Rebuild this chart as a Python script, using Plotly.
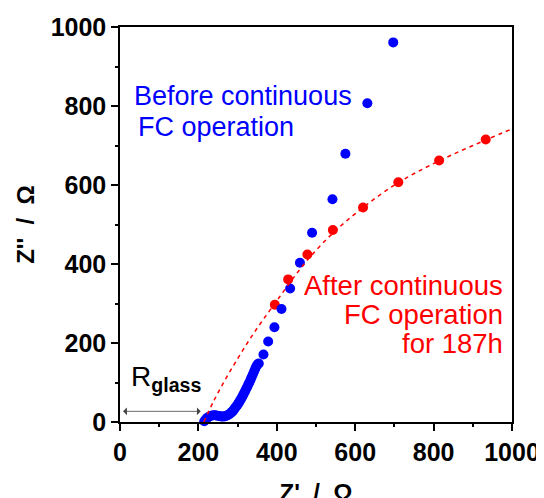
import plotly.graph_objects as go

# Before continuous FC operation (blue)
before_x = [215, 219, 223, 228, 233, 238, 243, 248, 253, 258, 262, 266, 270, 274, 278,
            282, 285, 288, 291, 294, 297, 300, 303, 306, 309, 312, 315, 318, 321, 324,
            327, 330, 333, 336, 339, 342, 345, 348, 351,
            354, 366, 378, 394, 412, 434, 459, 490, 542, 575, 631, 697]
before_y = [2, 7, 11, 14, 16, 17, 17, 16, 15, 14, 14, 14, 15, 17, 19,
            22, 25, 28, 32, 36, 40, 44, 49, 54, 59, 64, 70, 76, 82, 88,
            94, 100, 107, 114, 121, 128, 135, 141, 146,
            148, 171, 204, 240, 286, 338, 403, 479, 564, 679, 807, 961]

# After continuous FC operation for 187h (red)
after_x = [395, 429, 478, 543, 620, 710, 814, 933]
after_y = [297, 361, 424, 486, 543, 607, 662, 715]

# Fitted dashed curve
fit_x = [214, 240, 270, 300, 330, 360, 395, 430, 478, 543, 620, 710, 814, 933, 1000]
fit_y = [0, 55, 110, 160, 208, 252, 300, 348, 410, 478, 543, 606, 661, 714, 742]

x_ticks = [0, 200, 400, 600, 800, 1000]
y_ticks = [0, 200, 400, 600, 800, 1000]

FONT = "Liberation Sans, Arial, sans-serif"
BLUE = "#0000FF"
RED = "#FF0000"

fig = go.Figure()
fig.add_trace(go.Scatter(x=after_x, y=after_y, mode="markers",
                         marker=dict(color=RED, size=10), showlegend=False, cliponaxis=False))
fig.add_trace(go.Scatter(x=before_x, y=before_y, mode="markers",
                         marker=dict(color=BLUE, size=10), showlegend=False, cliponaxis=False))
fig.add_trace(go.Scatter(x=fit_x, y=fit_y, mode="lines",
                         line=dict(color=RED, width=1.5, dash="4px,4px", shape="spline"),
                         showlegend=False))

axis_common = dict(
    range=[0, 1000], tickmode="array", ticks="outside", ticklen=7, tickwidth=1.5,
    tickcolor="black", showline=True, linewidth=1.5, linecolor="black", mirror=True,
    showgrid=False, zeroline=False, automargin=False,
    minor=dict(dtick=100, tick0=0, ticks="outside", ticklen=3.5, tickwidth=1.5, tickcolor="black"),
    tickfont=dict(family=FONT, size=25, color="black", weight="bold"),
)
fig.update_xaxes(**axis_common, tickvals=x_ticks, ticktext=[str(v) for v in x_ticks],
                 title=dict(text="Z'  /  Ω", standoff=24,
                            font=dict(family=FONT, size=24, color="black", weight="bold")))
fig.update_yaxes(**axis_common, tickvals=y_ticks, ticktext=[str(v) for v in y_ticks],
                 title=dict(text="Z''  /  Ω", standoff=9,
                            font=dict(family=FONT, size=24, color="black", weight="bold")))

ann_font_b = dict(family=FONT, size=27, color=BLUE)
ann_font_r = dict(family=FONT, size=27.5, color=RED)
annotations = [
    dict(x=30, y=826, text="Before continuous", xanchor="left", yanchor="middle", font=ann_font_b),
    dict(x=41, y=747, text="FC operation", xanchor="left", yanchor="middle", font=ann_font_b),
    dict(x=982, y=345, text="After continuous", xanchor="right", yanchor="middle", font=ann_font_r),
    dict(x=982, y=272, text="FC operation", xanchor="right", yanchor="middle", font=ann_font_r),
    dict(x=982, y=198, text="for 187h", xanchor="right", yanchor="middle", font=ann_font_r),
    dict(x=22, y=110, text="R<sub><b>glass</b></sub>", xanchor="left", yanchor="middle",
         font=dict(family=FONT, size=28, color="black")),
    dict(x=206, y=27, ax=4, ay=27, axref="x", ayref="y", text="", showarrow=True,
         arrowside="end+start", arrowhead=1, arrowsize=1.6, arrowwidth=0.8, arrowcolor="#444"),
]
for a in annotations:
    a.setdefault("showarrow", False)
    a["xref"] = "x"
    a["yref"] = "y"

# the page body adds an 8px offset, so margins are reduced on the left/top accordingly
fig.update_layout(
    width=544, height=498,
    margin=dict(l=112, r=40, t=19, b=84),
    paper_bgcolor="white", plot_bgcolor="white",
    annotations=annotations,
    font=dict(family=FONT),
)

fig.write_html("out.html")
